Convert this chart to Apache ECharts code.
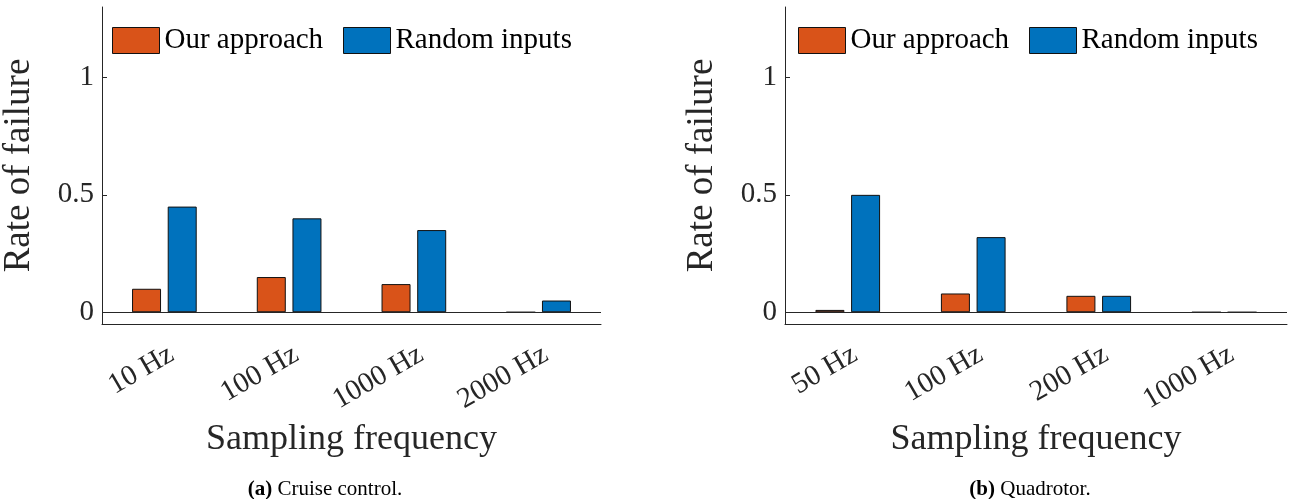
<!DOCTYPE html>
<html>
<head>
<meta charset="utf-8">
<script src="https://cdn.jsdelivr.net/npm/echarts@6/dist/echarts.min.js"></script>
<style>
  html, body { margin: 0; padding: 0; background: #fff; }
  #main { width: 1292px; height: 499px; }
</style>
</head>
<body>
<div id="main"></div>
<script>
// (a) cruise control
var categoriesA = ['10 Hz', '100 Hz', '1000 Hz', '2000 Hz'];
var oursA = [0.10, 0.15, 0.12, 0];
var randomA = [0.45, 0.40, 0.35, 0.05];
// (b) quadrotor
var categoriesB = ['50 Hz', '100 Hz', '200 Hz', '1000 Hz'];
var oursB = [0.01, 0.08, 0.07, 0];
var randomB = [0.50, 0.32, 0.07, 0];

var yTicks = [0, 0.5, 1];
var seriesNames = ['Our approach', 'Random inputs'];

var FONT = "'Liberation Serif', 'Times New Roman', serif";
var AXIS = '#262626';
var ORANGE = '#D95319';
var BLUE = '#0072BD';

function xAxisFor(idx, cats) {
    return {
        type: 'category',
        gridIndex: idx,
        data: cats,
        boundaryGap: true,
        name: 'Sampling frequency',
        nameLocation: 'middle',
        nameGap: 94,
        nameTextStyle: { fontFamily: FONT, fontSize: 36, color: AXIS },
        axisLine: { onZero: false, lineStyle: { color: AXIS, width: 1 } },
        axisTick: { alignWithLabel: true, inside: true, length: 5, lineStyle: { color: AXIS } },
        axisLabel: {
            interval: 0,
            rotate: 30,
            align: 'right',
            verticalAlign: 'top',
            margin: 16,
            fontFamily: FONT,
            fontSize: 29,
            color: AXIS
        },
        splitLine: { show: false }
    };
}

function yAxisFor(idx) {
    return {
        type: 'value',
        gridIndex: idx,
        min: -0.05,
        max: 1.3,
        name: 'Rate of failure',
        nameLocation: 'middle',
        nameGap: 64,
        nameTextStyle: { fontFamily: FONT, fontSize: 37, color: AXIS },
        axisLine: { show: true, lineStyle: { color: AXIS, width: 1 } },
        axisTick: { show: true, inside: true, length: 5, customValues: yTicks, lineStyle: { color: AXIS } },
        axisLabel: { customValues: yTicks, fontFamily: FONT, fontSize: 29, color: AXIS, margin: 8 },
        splitLine: { show: false }
    };
}

function barSeries(name, color, data, idx, withZeroLine) {
    var s = {
        name: name,
        type: 'bar',
        xAxisIndex: idx,
        yAxisIndex: idx,
        data: data,
        barWidth: 29,
        barGap: '23%',
        itemStyle: { color: color, borderColor: '#111', borderWidth: 1 }
    };
    if (withZeroLine) {
        // baseline at y = 0, the x axis itself sits a little lower
        s.markLine = {
            silent: true,
            symbol: ['none', 'none'],
            label: { show: false },
            lineStyle: { color: AXIS, type: 'solid', width: 1 },
            data: [{ yAxis: 0 }]
        };
    }
    return s;
}

function legendAt(x, name) {
    return {
        left: x,
        top: 26,
        padding: 0,
        icon: 'rect',
        itemWidth: 47,
        itemHeight: 26,
        data: [name],
        itemStyle: { borderColor: '#111', borderWidth: 1 },
        textStyle: { fontFamily: FONT, fontSize: 29, color: '#000' }
    };
}

function caption(label, text, x) {
    return {
        text: '{b|' + label + '} ' + text,
        left: x,
        top: 474,
        textAlign: 'center',
        textStyle: {
            fontFamily: FONT, fontSize: 21, fontWeight: 'normal', color: '#000',
            rich: { b: { fontFamily: FONT, fontSize: 21, fontWeight: 'bold', color: '#000' } }
        }
    };
}

var chart = echarts.init(document.getElementById('main'), null, { renderer: 'canvas' });

var option = {
    backgroundColor: '#fff',
    animation: false,
    title: [
        caption('(a)', 'Cruise control.', 320),
        caption('(b)', 'Quadrotor.', 1025)
    ],
    legend: [
        legendAt(112, seriesNames[0]),
        legendAt(343, seriesNames[1]),
        legendAt(798, seriesNames[0]),
        legendAt(1029, seriesNames[1])
    ],
    grid: [
        { left: 100, top: 7, width: 501, height: 317 },
        { left: 785, top: 7, width: 502, height: 317 }
    ],
    xAxis: [xAxisFor(0, categoriesA), xAxisFor(1, categoriesB)],
    yAxis: [yAxisFor(0), yAxisFor(1)],
    series: [
        barSeries(seriesNames[0], ORANGE, oursA, 0, true),
        barSeries(seriesNames[1], BLUE, randomA, 0, false),
        barSeries(seriesNames[0], ORANGE, oursB, 1, true),
        barSeries(seriesNames[1], BLUE, randomB, 1, false)
    ]
};

chart.setOption(option);
</script>
</body>
</html>
